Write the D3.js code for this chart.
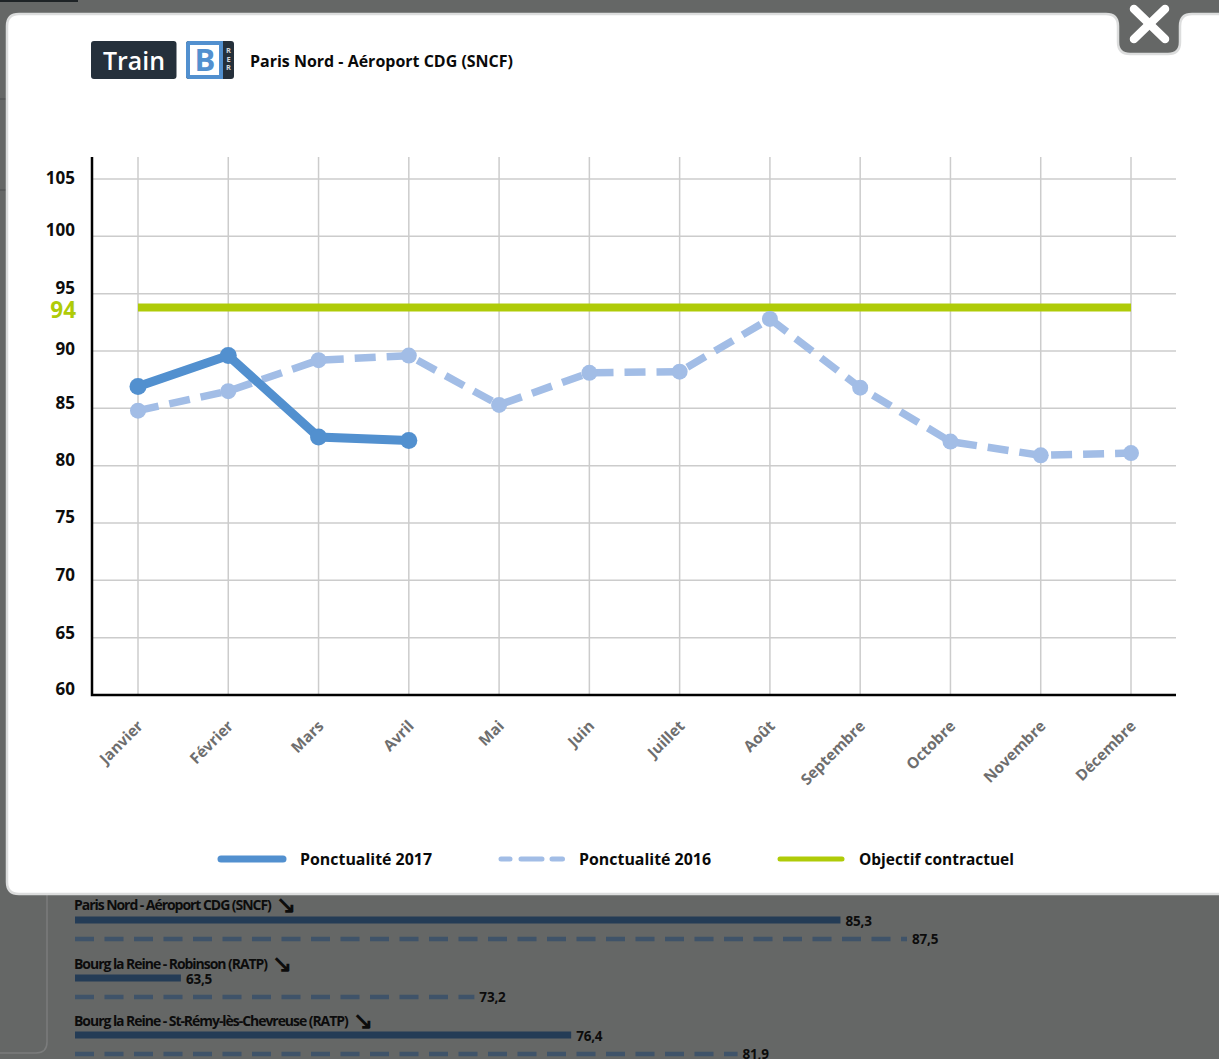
<!DOCTYPE html>
<html><head><meta charset="utf-8">
<script src="https://cdn.jsdelivr.net/npm/d3@7/dist/d3.min.js"></script>
<style>html,body{margin:0;padding:0;background:#656766;overflow:hidden}svg{display:block}text{font-family:"Open Sans","Noto Sans",sans-serif}</style>
</head><body><svg id="c" width="1219" height="1059"></svg>
<script>
const months=["Janvier","Février","Mars","Avril","Mai","Juin","Juillet","Août","Septembre","Octobre","Novembre","Décembre"];
const punct2017=[86.9,89.6,82.5,82.2];
const punct2016=[84.8,86.5,89.2,89.6,85.3,88.1,88.2,92.8,86.8,82.1,80.9,81.1];
const objective=months.map(()=>93.8);
const objectiveLabel="94";
const yTicks=[60,65,70,75,80,85,90,95,100,105];
const yTickNudge=[-5,-4,-4.5,-5,-5,-4,-1,-5,-5,0];
const legendNames=["Ponctualité 2017","Ponctualité 2016","Objectif contractuel"];
const bgStations=["Paris Nord - Aéroport CDG (SNCF)","Bourg la Reine - Robinson (RATP)","Bourg la Reine - St-Rémy-lès-Chevreuse (RATP)"];
const bg2017=[85.3,63.5,76.4];
const bg2016=[87.5,73.2,81.9];
const fmt=v=>String(v).replace(".",",");

const C17="#5290cf",C16="#a2bde6",COBJ="#afcb08",GRID="#cccccc";
const svg=d3.select("#c");

// ---- dimmed page behind the modal
const bg=svg.append("g");
bg.append("rect").attr("width",1219).attr("height",1059).attr("fill","#656766");
bg.append("rect").attr("x",0).attr("y",0).attr("width",78).attr("height",2).attr("fill","#1e2326");
bg.append("path").attr("d","M47,880V1042Q47,1053 36,1053H0").attr("fill","none").attr("stroke","#7b7c7c").attr("stroke-width",1.5);
bg.append("g").attr("stroke","#585a5a").attr("stroke-width",2).selectAll("line").data([99,190]).join("line").attr("x1",0).attr("x2",8).attr("y1",d=>d).attr("y2",d=>d);
const bx=d3.scaleLinear().domain([60,87.5]).range([75,907]);
const rowY=[904,963,1020],bar17=[920,978,1035],bar16=[939,997,1054];
bgStations.forEach((s,i)=>{
  const g=bg.append("g");
  const t=g.append("text").attr("x",74).attr("y",rowY[i]+6).attr("font-size",14).attr("font-weight",700).attr("letter-spacing",-1.05).attr("fill","#0c0c0c").text(s);
  const w=t.node().getComputedTextLength();
  g.append("text").attr("x",74+w+5).attr("y",rowY[i]+9).attr("font-size",24).attr("font-weight",700).attr("fill","#0c0c0c").attr("font-family","DejaVu Sans").text("↘");
  g.append("line").attr("x1",75).attr("x2",bx(bg2017[i])).attr("y1",bar17[i]).attr("y2",bar17[i]).attr("stroke","#243c56").attr("stroke-width",7);
  g.append("text").attr("x",bx(bg2017[i])+5).attr("y",bar17[i]+6).attr("font-size",13.5).attr("font-weight",700).attr("fill","#0c0c0c").attr("letter-spacing",-.2).text(fmt(bg2017[i]));
  g.append("line").attr("x1",75).attr("x2",bx(bg2016[i])).attr("y1",bar16[i]).attr("y2",bar16[i]).attr("stroke","#3f5369").attr("stroke-width",4.5).attr("stroke-dasharray","19 10.5");
  g.append("text").attr("x",bx(bg2016[i])+5).attr("y",bar16[i]+5).attr("font-size",13.5).attr("font-weight",700).attr("fill","#0c0c0c").attr("letter-spacing",-.2).text(fmt(bg2016[i]));
});

// ---- modal with close notch
const mL=7,mT=14,mR=1260,mB=894;
const modal=`M${mL+12},${mT}H1106Q1118,${mT} 1118,${mT+12}V42Q1118,54 1130,54H1168Q1180,54 1180,42V${mT+12}Q1180,${mT} 1192,${mT}H${mR}V${mB}H${mL+12}Q${mL},${mB} ${mL},${mB-12}V${mT+12}Q${mL},${mT} ${mL+12},${mT}Z`;
svg.append("path").attr("d",modal).attr("fill","#fff").attr("stroke","#dcdddd").attr("stroke-width",2.5);
svg.append("g").attr("stroke","#fff").attr("stroke-width",8.5).attr("stroke-linecap","round").selectAll("line")
  .data([[1134,9,1165,39],[1165,9,1134,39]]).join("line")
  .attr("x1",d=>d[0]).attr("y1",d=>d[1]).attr("x2",d=>d[2]).attr("y2",d=>d[3]);

// ---- header badges
const h=svg.append("g");
h.append("rect").attr("x",91).attr("y",41).attr("width",85.5).attr("height",38).attr("rx",3).attr("fill","#25303b");
h.append("text").attr("x",134).attr("y",70).attr("text-anchor","middle").attr("font-size",26).attr("font-weight",600).attr("fill","#fff").attr("textLength",62).attr("lengthAdjust","spacingAndGlyphs").text("Train");
h.append("rect").attr("x",186).attr("y",41).attr("width",48).attr("height",38).attr("rx",3).attr("fill","#25303b");
h.append("path").attr("d","M189,41H223V79H189Q186,79 186,76V44Q186,41 189,41Z").attr("fill","#5290cf");
h.append("rect").attr("x",190).attr("y",45).attr("width",29).attr("height",30).attr("fill","#fff");
h.append("text").attr("x",205).attr("y",71).attr("text-anchor","middle").attr("font-size",31).attr("font-weight",700).attr("fill","#5290cf").text("B");
["R","E","R"].forEach((c,i)=>h.append("text").attr("x",228.5).attr("y",53+i*8.5).attr("text-anchor","middle").attr("font-size",7.5).attr("font-weight",700).attr("fill","#d5d8db").text(c));
h.append("text").attr("x",250).attr("y",66.5).attr("font-size",16.5).attr("font-weight",700).attr("fill","#0a0a0a").attr("textLength",263).attr("lengthAdjust","spacingAndGlyphs").text("Paris Nord - Aéroport CDG (SNCF)");

// ---- chart
const x=d3.scalePoint().domain(months).range([138,1131]);
const y=d3.scaleLinear().domain([60,105]).range([695,179]);
const plotL=92,plotR=1176,plotT=157,plotB=695;

const gy=svg.append("g").attr("transform",`translate(${plotL},0)`)
  .call(d3.axisLeft(y).offset(0).tickValues(yTicks).tickSize(-(plotR-plotL)).tickPadding(17).tickFormat(d3.format("d")));
gy.select(".domain").remove();
gy.selectAll(".tick line").attr("stroke",GRID).attr("stroke-width",1.5);
gy.selectAll(".tick text").attr("dy",(d,i)=>yTickNudge[i]+5).attr("font-size",17).attr("font-weight",700).attr("fill","#0d0d0d");

const gx=svg.append("g").attr("transform",`translate(0,${plotB})`)
  .call(d3.axisBottom(x).offset(0).tickSize(-(plotB-plotT)).tickPadding(0));
gx.select(".domain").remove();
gx.selectAll(".tick line").attr("stroke",GRID).attr("stroke-width",1.5);
gx.selectAll(".tick text").attr("text-anchor","end").attr("dy",0).attr("font-size",15.3).attr("font-weight",700).attr("fill","#6e6e6e")
  .attr("transform","translate(6,32) rotate(-45)");

svg.append("path").attr("d",`M${plotL},${plotT}V${plotB}H${plotR}`).attr("fill","none").attr("stroke","#000").attr("stroke-width",2.5);

const line=d3.line().x((d,i)=>x(months[i])).y(d=>y(d));
svg.append("path").datum(objective).attr("d",line).attr("fill","none").attr("stroke",COBJ).attr("stroke-width",8);
svg.append("text").attr("x",76).attr("y",y(93.8)+11).attr("text-anchor","end").attr("font-size",22.5).attr("font-weight",700).attr("fill",COBJ).text(objectiveLabel);

svg.append("path").datum(punct2016).attr("d",line).attr("fill","none").attr("stroke",C16).attr("stroke-width",7.5).attr("stroke-dasharray","21 11");
svg.append("g").selectAll("circle").data(punct2016).join("circle")
  .attr("cx",(d,i)=>x(months[i])).attr("cy",d=>y(d)).attr("r",8).attr("fill",C16);
svg.append("path").datum(punct2017).attr("d",line).attr("fill","none").attr("stroke",C17).attr("stroke-width",9);
svg.append("g").selectAll("circle").data(punct2017).join("circle")
  .attr("cx",(d,i)=>x(months[i])).attr("cy",d=>y(d)).attr("r",8.5).attr("fill",C17);

// ---- legend
const lg=svg.append("g");
const lgX=[218,498,777],lgT=[300,579,859],lgLen=[132,132,155];
const lgC=[C17,C16,COBJ],lgW=[7,5,5],lgDash=[null,"9 11 21 10 10.5 100",null];
legendNames.forEach((n,i)=>{
  lg.append("line").attr("x1",lgX[i]+3).attr("x2",lgX[i]+65).attr("y1",859).attr("y2",859)
    .attr("stroke",lgC[i]).attr("stroke-width",lgW[i]).attr("stroke-linecap","round").attr("stroke-dasharray",lgDash[i]);
  lg.append("text").attr("x",lgT[i]).attr("y",865).attr("font-size",16.5).attr("font-weight",700).attr("fill","#0a0a0a").attr("textLength",lgLen[i]).attr("lengthAdjust","spacingAndGlyphs").text(n);
});
</script></body></html>
